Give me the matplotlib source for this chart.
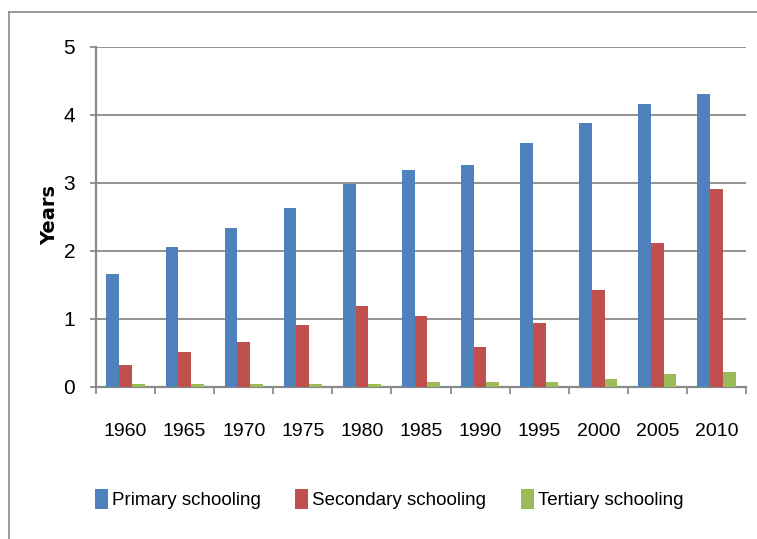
import matplotlib
matplotlib.use("Agg")
from matplotlib import pyplot as plt
from matplotlib.lines import Line2D
import numpy as np

years = ["1960", "1965", "1970", "1975", "1980", "1985", "1990", "1995", "2000", "2005", "2010"]
primary = [1.66, 2.06, 2.34, 2.63, 2.99, 3.19, 3.26, 3.59, 3.88, 4.16, 4.31]
secondary = [0.32, 0.51, 0.66, 0.91, 1.19, 1.04, 0.59, 0.94, 1.43, 2.12, 2.91]
tertiary = [0.05, 0.05, 0.05, 0.05, 0.05, 0.07, 0.07, 0.07, 0.12, 0.19, 0.22]
series_names = ["Primary schooling", "Secondary schooling", "Tertiary schooling"]
colors = ["#4F81BD", "#C0504D", "#9BBB59"]

plt.rcParams['font.family'] = ['Liberation Sans', 'DejaVu Sans']
grey = "#8a8a8a"

fig = plt.figure(figsize=(7.57, 5.39), dpi=100)
ax = fig.add_axes([96 / 757, 1 - 387 / 539, (746 - 96) / 757, (387 - 47) / 539])

x = np.arange(len(years))
w = 0.215
for i, (vals, name, c) in enumerate(zip([primary, secondary, tertiary], series_names, colors)):
    ax.bar(x + (i - 1) * w, vals, width=w, color=c, label=name, zorder=3)

ax.set_xlim(-0.5, len(years) - 0.5)
ax.set_ylim(0, 5)
ax.set_yticks(range(0, 6))
ax.yaxis.grid(True, color=grey, linewidth=1.3, zorder=0)

ax.set_xticks(x)
ax.set_xticklabels(years)
ax.set_xticks(np.arange(-0.5, len(years)), minor=True)
ax.tick_params(axis='x', which='major', length=0, pad=26, labelsize=14)
ax.tick_params(axis='x', which='minor', length=5, width=1.3, color=grey, direction='out')
ax.tick_params(axis='y', length=4, width=1.3, color=grey, direction='out', pad=11, labelsize=15)

for s in ['top', 'right']:
    ax.spines[s].set_visible(False)
for s in ['left', 'bottom']:
    ax.spines[s].set_color(grey)
    ax.spines[s].set_linewidth(1.6)

ax.set_ylabel("Years", fontsize=14, fontweight='bold', family='DejaVu Sans')
ax.yaxis.set_label_coords(-0.056, 0.506)

fig.legend(loc='center', bbox_to_anchor=(389 / 757, 1 - 499 / 539), ncol=3, frameon=False,
           fontsize=13.5, handlelength=0.7, handleheight=1.25, handletextpad=0.2,
           columnspacing=1.85, borderpad=0, borderaxespad=0)

# outer chart frame (top and left edges)
fig.add_artist(Line2D([9 / 757, 1], [1 - 12 / 539, 1 - 12 / 539], color=grey, linewidth=1.2))
fig.add_artist(Line2D([9 / 757, 9 / 757], [0, 1 - 12 / 539], color=grey, linewidth=1.2))

fig.savefig("out.png", dpi=100)
